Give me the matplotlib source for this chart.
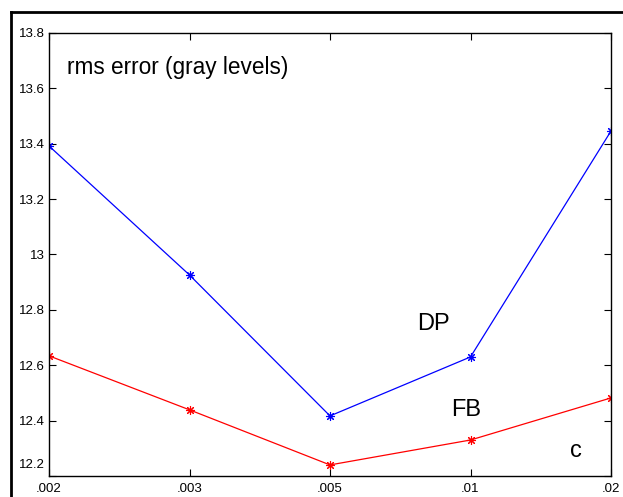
import numpy as np
import matplotlib.pyplot as plt
import matplotlib.transforms as mtransforms
from matplotlib.lines import Line2D

plt.rcParams['font.family'] = ['Liberation Sans', 'DejaVu Sans']

# data
x_labels = ['.002', '.003', '.005', '.01', '.02']
dp_rms = [13.392, 12.926, 12.417, 12.630, 13.446]
fb_rms = [12.634, 12.439, 12.240, 12.330, 12.482]
y_ticks = [12.2, 12.4, 12.6, 12.8, 13.0, 13.2, 13.4, 13.6, 13.8]
y_labels = ['12.2', '12.4', '12.6', '12.8', '13', '13.2', '13.4', '13.6', '13.8']

W, H = 623, 497
fig = plt.figure(figsize=(W / 100, H / 100), dpi=100)
ax = fig.add_axes([49 / W, 1 - 476 / H, (611 - 49) / W, (476 - 33) / H])

xs = np.arange(len(x_labels))
ast = (8, 2, 0)   # MATLAB-style asterisk
ax.plot(xs, dp_rms, '-', color='blue', lw=0.9, marker=ast, ms=6.5, mew=0.8)
ax.plot(xs, fb_rms, '-', color='red', lw=0.9, marker=ast, ms=6.5, mew=0.8)

ax.set_xlim(0, len(x_labels) - 1)
ax.set_ylim(12.2, 13.8)
ax.set_xticks(xs)
ax.set_xticklabels(x_labels)
ax.set_yticks(y_ticks)
ax.set_yticklabels(y_labels)
ax.tick_params(direction='in', length=5, width=0.8, labelsize=9.5,
               top=True, right=True, pad=3)
ax.tick_params(axis='x', pad=5)
for s in ax.spines.values():
    s.set_linewidth(1.0)

# MATLAB-like: lowest y label sits above the corner
lab = ax.get_yticklabels()[0]
lab.set_transform(lab.get_transform() +
                  mtransforms.ScaledTranslation(0, 12 / 100, fig.dpi_scale_trans))

ax.text(0.032, 0.923, 'rms error (gray levels)', transform=ax.transAxes,
        fontsize=16.3, va='center', ha='left')
ax.text(2.62, 12.75, 'DP', fontsize=17, va='center', ha='left')
ax.text(2.86, 12.44, 'FB', fontsize=17, va='center', ha='left')
ax.text(3.71, 12.29, 'c', fontsize=17, va='center', ha='left')

# outer frame (cropped at right and bottom)
fig.add_artist(Line2D([11 / W, 11 / W], [0, 1 - 12 / H], color='black', lw=2,
                      transform=fig.transFigure))
fig.add_artist(Line2D([11 / W, 1], [1 - 12 / H, 1 - 12 / H], color='black', lw=2,
                      transform=fig.transFigure))

fig.savefig('out.png', dpi=100)
